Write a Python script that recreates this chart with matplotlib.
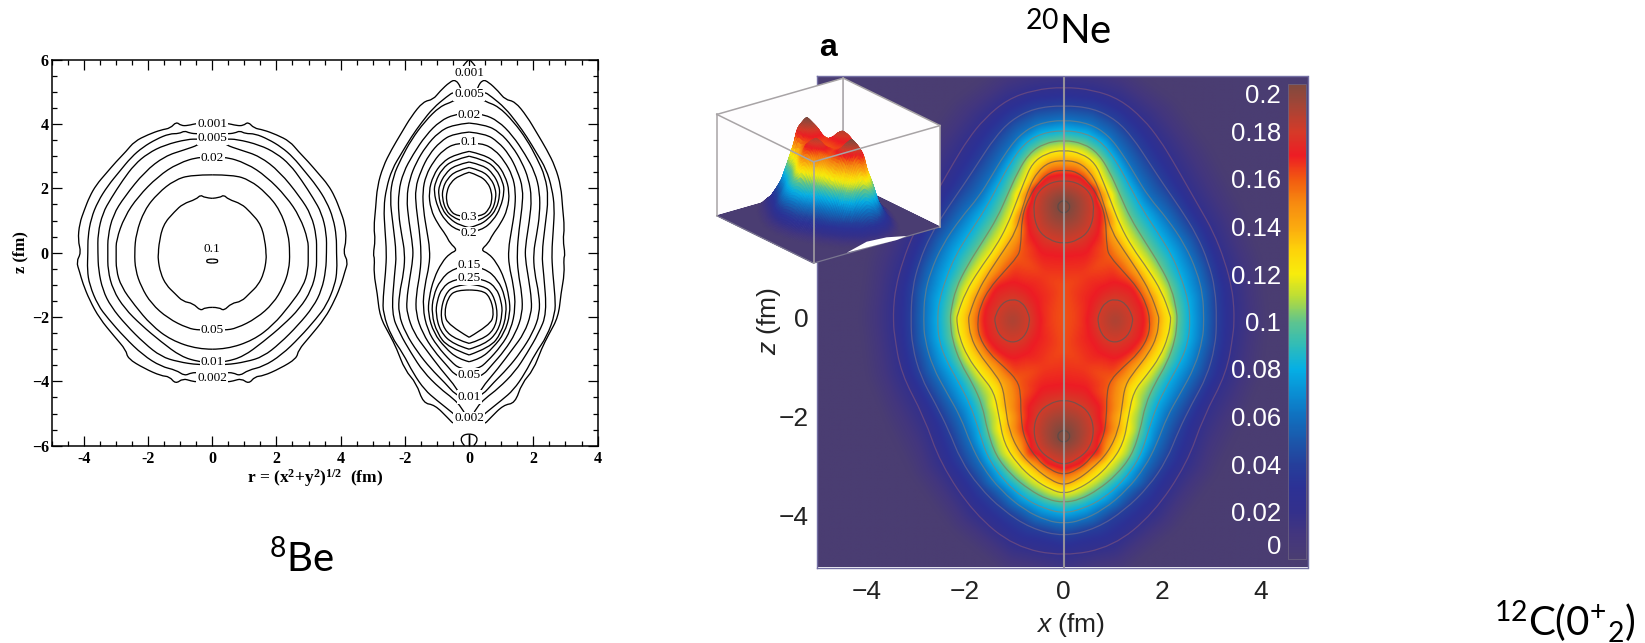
import numpy as np
import matplotlib
matplotlib.use("Agg")
import matplotlib.pyplot as plt
import matplotlib.tri as mtri
from matplotlib.colors import LinearSegmentedColormap, Normalize
from matplotlib.patches import PathPatch, Polygon
from matplotlib.path import Path
from matplotlib.ticker import MultipleLocator
from mpl_toolkits.mplot3d.art3d import Poly3DCollection

plt.rcParams["mathtext.fontset"] = "custom"
plt.rcParams["mathtext.rm"] = "Liberation Sans"
plt.rcParams["mathtext.it"] = "Liberation Sans:italic"
plt.rcParams["mathtext.default"] = "regular"

W, H = 1645, 643

# 8Be, left object: right halves of the contours (r, z in fm), outside in
be_a1 = [(0, 4.03), (.45, 4.03), (.76, 3.95), (.97, 3.95), (1.12, 4.07), (1.30, 3.87), (1.59, 3.82), (2.0, 3.67),
         (2.42, 3.46), (2.68, 3.15), (2.99, 2.83), (3.30, 2.47), (3.61, 2.11), (3.82, 1.74), (3.98, 1.33),
         (4.13, .91), (4.18, .39), (4.08, 0), (4.23, -.28), (4.13, -.59), (4.03, -.95), (3.82, -1.47),
         (3.51, -2.04), (3.04, -2.61), (2.68, -3.03), (2.63, -3.29), (2.11, -3.60), (1.59, -3.83), (1.33, -3.85),
         (1.14, -4.08), (.91, -3.91), (.65, -3.99), (.45, -4.02), (0, -4.02)]
be_a2 = [(0, 3.69), (.45, 3.69), (.71, 3.72), (.86, 3.79), (1.03, 3.70), (1.33, 3.70), (1.74, 3.53), (2.16, 3.28),
         (2.52, 2.97), (2.89, 2.52), (3.25, 2.08), (3.56, 1.59), (3.77, 1.07), (3.87, .50), (3.87, 0),
         (3.89, -.54), (3.82, -1.0), (3.56, -1.63), (3.25, -2.04), (2.73, -2.63), (2.16, -3.18), (1.59, -3.54),
         (1.12, -3.65), (.86, -3.83), (.65, -3.73), (.42, -3.73), (0, -3.73)]
be_a3 = [(0, 3.53), (.42, 3.53), (.76, 3.53), (1.48, 3.35), (2.0, 3.09), (2.42, 2.74), (2.78, 2.26), (3.15, 1.69),
         (3.41, 1.23), (3.56, .60), (3.56, 0), (3.54, -.54), (3.41, -1.16), (3.15, -1.68), (2.68, -2.25),
         (2.11, -2.82), (1.59, -3.23), (1.07, -3.39), (.42, -3.49), (0, -3.49)]
be_a4 = [(.3, 3.45), (.42, 3.35), (.86, 3.2), (1.48, 3.0), (2.1, 2.52), (2.73, 1.74), (3.09, 1.17), (3.25, .5),
         (3.25, 0), (3.25, -.54), (3.09, -1.16), (2.73, -1.73), (2.21, -2.25), (1.59, -2.77), (.97, -3.23),
         (.42, -3.39), (.3, -3.39)]
be_a5 = [(0, 2.95), (.35, 3.0), (1.07, 2.78), (1.69, 2.37), (2.31, 1.74), (2.73, 1.12), (2.99, .39), (2.99, 0),
         (2.99, -.54), (2.83, -1.06), (2.42, -1.63), (1.9, -2.25), (1.28, -2.72), (.45, -3.0), (0, -3.0)]
be_a6 = [(0, 2.42), (.65, 2.42), (1.17, 2.26), (1.69, 1.85), (2.11, 1.33), (2.37, .6), (2.42, 0), (2.39, -.54),
         (2.21, -1.06), (1.9, -1.58), (1.38, -2.04), (.76, -2.35), (.39, -2.41), (0, -2.41)]
be_a7 = [(0, 1.69), (.24, 1.71), (.36, 1.8), (.5, 1.66), (.91, 1.52), (1.17, 1.28), (1.54, .86), (1.67, .19),
         (1.67, 0), (1.69, -.18), (1.61, -.64), (1.43, -1.01), (1.17, -1.26), (.91, -1.52), (.6, -1.57),
         (.36, -1.81), (.22, -1.70), (0, -1.70)]
be_a8 = [(0, -.2), (.14, -.2), (.18, -.26), (.14, -.32), (0, -.32)]
be_left = [be_a1, be_a2, be_a3, be_a4, be_a5, be_a6, be_a7, be_a8]

# 8Be, right object, same idea
be_d1 = [(.22, 4.98), (.26, 5.15), (.42, 5.38), (.6, 5.31), (.91, 5.02), (1.12, 4.76), (1.43, 4.70), (1.80, 4.24),
         (2.11, 3.72), (2.42, 3.2), (2.68, 2.68), (2.86, 2.06), (2.91, 1.39), (2.97, .77), (2.92, .40), (2.99, -.06),
         (2.94, -.18), (2.97, -.64), (2.86, -1.26), (2.78, -1.99), (2.47, -2.56), (2.26, -2.97), (2.0, -3.65),
         (1.64, -4.06), (1.43, -4.68), (1.07, -4.73), (.65, -5.15), (.45, -5.36), (.42, -5.2)]
be_d2 = [(.3, 4.92), (.45, 5.02), (.7, 4.85), (1.12, 4.5), (1.48, 4.05), (1.8, 3.6), (2.1, 3.1), (2.4, 2.6),
         (2.58, 2.0), (2.66, 1.4), (2.62, .7), (2.57, 0), (2.6, -.6), (2.68, -1.4), (2.68, -1.89), (2.42, -2.61),
         (2.06, -3.13), (1.74, -3.75), (1.38, -4.27), (1.02, -4.58), (.5, -4.99), (.36, -5.12)]
be_d3 = [(.3, 4.82), (.5, 4.7), (.91, 4.55), (1.38, 4.08), (1.8, 3.51), (2.11, 2.94), (2.37, 2.37), (2.47, 1.7),
         (2.37, .87), (2.26, -.06), (2.32, -.64), (2.42, -1.89), (2.16, -2.51), (1.8, -3.13), (1.43, -3.7),
         (.91, -4.22), (.5, -4.53), (.24, -4.8), (.12, -5.03)]
be_d4 = [(.3, 4.3), (.45, 4.3), (.9, 4.1), (1.35, 3.65), (1.75, 3.05), (2.05, 2.5), (2.2, 1.9), (2.2, 1.2),
         (2.1, .55), (2.0, 0), (2.03, -.6), (2.18, -1.3), (2.2, -1.9), (1.98, -2.5), (1.6, -3.1), (1.2, -3.6),
         (.75, -4.05), (.42, -4.42), (.3, -4.45)]
be_d5 = [(0, 4.03), (.5, 3.98), (.95, 3.75), (1.35, 3.3), (1.65, 2.8), (1.85, 2.3), (1.95, 1.7), (1.88, 1.0),
         (1.75, .2), (1.75, -.2), (1.85, -.8), (1.95, -1.5), (1.93, -1.9), (1.72, -2.5), (1.35, -3.0), (.9, -3.6),
         (.35, -4.25), (.3, -4.4)]
be_d6 = [(0, 3.75), (.5, 3.7), (.9, 3.45), (1.25, 3.05), (1.5, 2.55), (1.68, 2.0), (1.65, 1.4), (1.55, .7),
         (1.49, 0), (1.52, -.6), (1.65, -1.3), (1.66, -1.9), (1.45, -2.5), (1.1, -3.05), (.7, -3.5), (.4, -3.85),
         (0, -3.95)]
be_d7 = [(0, 3.41), (.4, 3.41), (.8, 3.2), (1.1, 2.85), (1.35, 2.4), (1.45, 1.9), (1.42, 1.3), (1.32, .7),
         (1.22, .1), (1.24, -.4), (1.38, -1.0), (1.45, -1.7), (1.3, -2.4), (1.0, -2.9), (.55, -3.4), (.3, -3.6),
         (0, -3.65)]
be_b = [(0, 3.15), (.45, 3.05), (.85, 2.8), (1.12, 2.4), (1.26, 1.9), (1.2, 1.35), (.98, .9), (.72, .55), (.6, .3),
        (.36, .08), (.6, -.02), (.85, -.3), (1.1, -.8), (1.25, -1.4), (1.28, -1.9), (1.1, -2.5), (.75, -2.95),
        (.35, -3.3), (0, -3.39)]
be_t4 = [(0, 3.0), (.5, 2.88), (.85, 2.6), (1.05, 2.2), (1.1, 1.9), (.98, 1.4), (.75, 1.0), (.4, .7), (0, .61)]
be_t3 = [(0, 2.82), (.45, 2.72), (.75, 2.45), (.93, 2.1), (.96, 1.8), (.85, 1.35), (.6, 1.05), (.3, .85), (0, .78)]
be_t2 = [(0, 2.65), (.4, 2.55), (.68, 2.3), (.82, 2.0), (.84, 1.7), (.72, 1.3), (.5, 1.1), (.2, .98), (0, .95)]
be_t1 = [(0, 2.5), (.32, 2.4), (.58, 2.18), (.7, 1.9), (.71, 1.6), (.62, 1.35), (.4, 1.13), (0, 1.12)]
be_u4 = [(0, -.38), (.5, -.48), (.9, -.85), (1.12, -1.35), (1.17, -1.9), (1.0, -2.5), (.65, -2.95), (0, -3.18)]
be_u3 = [(0, -.77), (.5, -.83), (.85, -1.1), (1.0, -1.5), (1.04, -1.9), (.9, -2.45), (.5, -2.85), (0, -3.0)]
be_u2 = [(0, -.98), (.45, -1.02), (.75, -1.28), (.9, -1.89), (.78, -2.4), (.4, -2.7), (0, -2.82)]
be_u1 = [(0, -1.16), (.39, -1.16), (.65, -1.37), (.78, -1.89), (.65, -2.25), (0, -2.63)]
be_cap_top = [(.21, 5.76), (.08, 5.97), (0, 6.0)]
be_cap_bot = [(0, -5.64), (.19, -5.64), (.28, -5.86), (.14, -6.0)]
be_stem = [(0, -5.64), (0, -6.0)]
be_right = [be_d1, be_d2, be_d3, be_d4, be_d5, be_d6, be_d7, be_b, be_t4, be_t3, be_t2, be_t1,
            be_u4, be_u3, be_u2, be_u1, be_cap_top, be_cap_bot, be_stem]

be_left_labels = ["0.001", "0.005", "0.02", "0.05", "0.01", "0.002"]
be_left_label_z = [4.0, 3.56, 2.94, -2.4, -3.39, -3.9]
be_right_labels = ["0.001", "0.005", "0.02", "0.1", "0.3", "0.2", "0.15", "0.25", "0.05", "0.01", "0.002"]
be_right_label_z = [5.59, 4.92, 4.27, 3.44, 1.12, .6, -.38, -.78, -3.8, -4.48, -5.15]
be_centre = 8  # the right object sits 8 fm along the shared axis
be_ticks = [-4, -2, 0, 2, 4, 6, 8, 10, 12]
be_ticklabels = ["-4", "-2", "0", "2", "4", "-2", "0", "2", "4"]

# 20Ne: right halves of the density contours (x, z in fm)
ne_02 = [(0, 4.66), (.6, 4.6), (1.14, 4.41), (1.61, 4.02), (1.95, 3.59), (2.22, 3.15), (2.49, 2.68), (2.76, 2.21),
         (3.03, 1.74), (3.27, 1.13), (3.41, .59), (3.45, .19), (3.45, -.05), (3.44, -.3), (3.3, -1.12), (2.83, -2.0),
         (2.5, -2.94), (1.82, -3.95), (1.0, -4.62), (0, -4.82)]
ne_04 = [(0, 4.29), (.6, 4.23), (1.07, 3.99), (1.41, 3.62), (1.72, 3.15), (2.03, 2.68), (2.36, 2.21), (2.7, 1.67),
         (2.93, 1.13), (3.07, .59), (3.1, -.05), (3.07, -.58), (2.9, -1.19), (2.6, -1.73), (2.33, -2.27), (2.09, -2.87),
         (1.72, -3.41), (1.24, -3.88), (.67, -4.25), (0, -4.42)]
ne_06 = [(0, 4.0), (.53, 3.92), (.91, 3.68), (1.21, 3.28), (1.45, 2.88), (1.72, 2.44), (2.09, 2.01), (2.46, 1.47),
         (2.7, .93), (2.82, .46), (2.84, -.05), (2.82, -.42), (2.66, -.99), (2.36, -1.53), (2.09, -2.0), (1.89, -2.54),
         (1.65, -3.01), (1.28, -3.48), (.8, -3.88), (.33, -4.1), (0, -4.15)]
ne_08 = [(0, 3.79), (.47, 3.72), (.8, 3.52), (1.07, 3.15), (1.31, 2.71), (1.58, 2.21), (1.89, 1.74), (2.19, 1.27),
         (2.39, .79), (2.53, .32), (2.56, -.05), (2.53, -.45), (2.39, -.85), (2.12, -1.32), (1.89, -1.76), (1.72, -2.27),
         (1.55, -2.81), (1.21, -3.3), (.8, -3.65), (.4, -3.85), (0, -3.95)]
ne_10 = [(0, 3.59), (.4, 3.52), (.7, 3.32), (.93, 2.95), (1.14, 2.48), (1.35, 2.01), (1.65, 1.53), (1.95, 1.06),
         (2.19, .59), (2.29, .12), (2.3, -.05), (2.26, -.45), (2.09, -.92), (1.85, -1.32), (1.65, -1.76), (1.55, -2.27),
         (1.38, -2.78), (1.07, -3.17), (.7, -3.47), (.33, -3.67), (0, -3.73)]
ne_12 = [(0, 3.39), (.36, 3.32), (.64, 3.12), (.8, 2.75), (.97, 2.31), (1.14, 1.87), (1.38, 1.43), (1.72, .96),
         (1.99, .52), (2.16, .05), (2.17, -.05), (2.12, -.38), (1.95, -.79), (1.68, -1.16), (1.41, -1.49), (1.31, -2.0),
         (1.21, -2.54), (.94, -2.95), (.6, -3.27), (.26, -3.47), (0, -3.55)]
ne_14 = [(0, 3.18), (.3, 3.14), (.53, 2.95), (.7, 2.64), (.84, 2.21), (.97, 1.74), (1.21, 1.37), (1.51, .93),
         (1.75, .52), (1.92, .05), (1.93, -.05), (1.89, -.38), (1.72, -.72), (1.45, -1.06), (1.24, -1.36), (1.18, -1.8),
         (1.11, -2.27), (.9, -2.72), (.57, -3.05), (.26, -3.28), (0, -3.38)]
ne_16 = [(0, 2.98), (.26, 2.95), (.5, 2.75), (.7, 2.44), (.85, 2.04), (.87, 1.4), (.94, 1.23), (1.21, .93),
         (1.51, .59), (1.68, .26), (1.75, -.05), (1.72, -.38), (1.51, -.72), (1.21, -.99), (.94, -1.26), (.87, -1.53),
         (.87, -2.0), (.8, -2.45), (.55, -2.85), (.26, -3.08), (0, -3.17)]
ne_18_top = [(0, 2.78), (.33, 2.71), (.57, 2.48), (.62, 2.14), (.53, 1.77), (.3, 1.57), (0, 1.49)]
ne_18_bot = [(0, -1.65), (.3, -1.73), (.53, -1.93), (.62, -2.27), (.53, -2.64), (.26, -2.87), (0, -2.97)]
ne_20_top = [(0, 2.37), (.09, 2.33), (.13, 2.24), (.09, 2.15), (0, 2.11)]
ne_20_bot = [(0, -2.27), (.09, -2.3), (.13, -2.39), (.09, -2.48), (0, -2.51)]
ne_halves = [ne_02, ne_04, ne_06, ne_08, ne_10, ne_12, ne_14, ne_16, ne_18_top, ne_18_bot, ne_20_top, ne_20_bot]
ne_levels = [.02, .04, .06, .08, .10, .12, .14, .16, .18, .18, .20, .20]
ne_line_colors = ["#6a4a80", "#5a5f95", "#5f7f90", "#6f8a85", "#7a8a60", "#807a50", "#806040", "#704f40", "#6d5350",
                  "#6d5350", "#5a4a48", "#5a4a48"]
# closed .18 loop around the side cluster, x > 0
ne_18_side = [(1.04, .38), (1.25, .3), (1.39, .05), (1.4, -.1), (1.3, -.38), (1.04, -.52), (.8, -.4), (.68, -.1),
              (.72, .12), (.85, .32)]
# where the red band ends: no line drawn there, density about .17
ne_17_top = [(0, 2.88), (.35, 2.82), (.68, 2.6), (.78, 2.2), (.72, 1.75), (.45, 1.3), (0, 1.25)]
ne_17_bot = [(0, -1.38), (.45, -1.45), (.74, -1.85), (.78, -2.3), (.68, -2.75), (.35, -2.98), (0, -3.07)]
ne_17_side = [(1.04, .72), (1.4, .58), (1.6, .2), (1.63, -.1), (1.55, -.45), (1.3, -.72), (1.04, -.85), (.75, -.72),
              (.52, -.35), (.48, -.05), (.55, .3), (.75, .58)]
# where the colour has faded out to the background
ne_fade = [(0, 5.4), (1.2, 5.15), (2.3, 4.35), (3.0, 3.4), (3.6, 2.3), (4.0, 1.2), (4.15, 0), (4.0, -1.2), (3.6, -2.2),
           (3.1, -3.2), (2.3, -4.3), (1.2, -5.2), (0, -5.55), (7, 7), (7, -7), (7, 0), (0, 7), (0, -7)]
# values seen inside the contours: (x, z, density)
ne_inner = [(0, 2.24, .205), (0, -2.39, .205), (1.04, -.07, .19), (0, 0, .161), (0, .6, .162), (0, -.6, .162),
            (.25, 0, .164), (.4, .85, .165), (.4, -.98, .165)]

cbar_values = [0, .01, .02, .03, .04, .05, .06, .07, .08, .09, .10, .11, .12, .13, .14, .15, .16, .17, .18, .19, .20]
cbar_colors = ["#4a3d72", "#43367e", "#33308c", "#2c3195", "#253f9b", "#1b58ab", "#1070bf", "#0a8fd4", "#05afe5",
               "#30bcb8", "#5fc48e", "#b7dc3a", "#f8ec0c", "#fdd30a", "#fba90f", "#f78a10", "#f25a10", "#ed1c24",
               "#d53a28", "#a84435", "#7f4a3f"]
cbar_ticks = [0, .02, .04, .06, .08, .10, .12, .14, .16, .18, .20]
cbar_ticklabels = ["0", "0.02", "0.04", "0.06", "0.08", "0.1", "0.12", "0.14", "0.16", "0.18", "0.2"]
ne_ticks = [-4, -2, 0, 2, 4]
ne_zticks = [-4, -2, 0]
ne_ticklabels = ["\u22124", "\u22122", "0", "2", "4"]
ne_zticklabels = ["\u22124", "\u22122", "0"]


def box(left, top, right, bottom):
    return [left / W, 1 - bottom / H, (right - left) / W, (bottom - top) / H]


def smooth_open(ax, pts, **kw):
    # open quadratic curve, read points as control points
    pts = np.array(pts, float)
    if len(pts) < 3:
        ax.add_patch(PathPatch(Path(pts), fill=False, **kw))
        return
    verts = [pts[0]]
    codes = [Path.MOVETO]
    for i in range(1, len(pts) - 1):
        end = pts[i + 1] if i == len(pts) - 2 else (pts[i] + pts[i + 1]) / 2
        verts += [pts[i], end]
        codes += [Path.CURVE3, Path.CURVE3]
    ax.add_patch(PathPatch(Path(verts, codes), fill=False, **kw))


def draw_half(ax, pts, centre=0):
    pts = np.array(pts, float)
    for sign in (1, -1):
        smooth_open(ax, np.column_stack([centre + sign * pts[:, 0], pts[:, 1]]), edgecolor="black", linewidth=.95)


def smooth_loop(ax, xs, zs, **kw):
    # closed quadratic curve with the read points as control points
    pts = np.column_stack([xs, zs])
    mids = (pts + np.roll(pts, -1, axis=0)) / 2
    verts = [mids[-1]]
    codes = [Path.MOVETO]
    for p, m in zip(pts, mids):
        verts += [p, m]
        codes += [Path.CURVE3, Path.CURVE3]
    ax.add_patch(PathPatch(Path(verts, codes), fill=False, **kw))


def mirrored(pts):
    half = np.array(pts, float)
    left = half[::-1].copy()
    left[:, 0] *= -1
    return np.vstack([half, left[1:-1]])


def blur(a, n):
    kernel = np.hanning(n + 2)[1:-1]
    kernel /= kernel.sum()
    pad = n // 2
    out = np.pad(a, pad, mode="edge")
    out = np.apply_along_axis(lambda r: np.convolve(r, kernel, mode="same"), 0, out)
    out = np.apply_along_axis(lambda r: np.convolve(r, kernel, mode="same"), 1, out)
    return out[pad:-pad, pad:-pad]


fig = plt.figure(figsize=(W / 100, H / 100), dpi=100, facecolor="white")

# ---- 8Be panel
ax = fig.add_axes(box(51.6, 59.7, 597.6, 445.7))
ax.set_xlim(-5, 12)
ax.set_ylim(-6, 6)
for pts in be_left:
    draw_half(ax, pts)
for pts in be_right:
    draw_half(ax, pts, be_centre)
serif = dict(family="Liberation Serif", ha="center", va="center", fontsize=9.5, color="black")
white = dict(facecolor="white", edgecolor="none", pad=.6)
for name, z in zip(be_left_labels, be_left_label_z):
    ax.text(0, z, name, bbox=white, **serif)
for name, z in zip(be_right_labels, be_right_label_z):
    ax.text(be_centre, z, name, bbox=white, **serif)
ax.text(0, .11, "0.1", **serif)
ax.set_xticks(be_ticks)
ax.set_xticklabels(be_ticklabels)
ax.xaxis.set_minor_locator(MultipleLocator(.5))
ax.yaxis.set_major_locator(MultipleLocator(2))
ax.yaxis.set_minor_locator(MultipleLocator(.5))
ax.tick_params(which="major", direction="in", top=True, right=True, length=7, width=.9)
ax.tick_params(which="minor", direction="in", top=True, right=True, length=3.6, width=.9)
ax.tick_params(axis="x", which="major", pad=4)
ax.tick_params(axis="y", which="major", pad=2)
for lab in ax.get_xticklabels() + ax.get_yticklabels():
    lab.set_family("Liberation Serif")
    lab.set_fontweight("bold")
    lab.set_fontsize(11.5)
for spine in ax.spines.values():
    spine.set_linewidth(1.1)

# ---- density field for 20Ne, from the contour points
fx, fz, fv = [], [], []
for pts, lev in zip(ne_halves + [ne_17_top, ne_17_bot], ne_levels + [.17, .17]):
    m = mirrored(pts)
    fx += list(m[:, 0])
    fz += list(m[:, 1])
    fv += [lev] * len(m)
for sign in (1, -1):
    for ring, lev in ((ne_18_side, .18), (ne_17_side, .17)):
        for x, z in ring:
            fx.append(sign * x)
            fz.append(z)
            fv.append(lev)
    for x, z, v in ne_inner:
        if x != 0 or sign == 1:
            fx.append(sign * x)
            fz.append(z)
            fv.append(v)
m = mirrored(ne_fade[:13])
fx += list(m[:, 0])
fz += list(m[:, 1])
fv += [0] * len(m)
for x, z in ne_fade[13:]:
    for sign in (1, -1):
        if x != 0 or sign == 1:
            fx.append(sign * x)
            fz.append(z)
            fv.append(0)
fx, fz, fv = np.array(fx), np.array(fz), np.array(fv)
tri = mtri.Triangulation(fx, fz)
field = mtri.LinearTriInterpolator(tri, fv)

cmap = LinearSegmentedColormap.from_list("ne", [(v / .2, c) for v, c in zip(cbar_values, cbar_colors)], N=512)
norm = Normalize(0, .2)

# ---- 20Ne panel
ax2 = fig.add_axes(box(817, 76, 1307.5, 567.5), zorder=1)
grid = np.linspace(-5.1, 5.1, 511)
gx, gz = np.meshgrid(grid, grid)
gv = blur(np.ma.filled(field(gx, gz), 0), 15)
ax2.imshow(gv, extent=(-5.1, 5.1, -5.1, 5.1), origin="lower", cmap=cmap, norm=norm, aspect="auto", interpolation="bilinear")
ax2.set_xlim(-5.0, 4.94)
ax2.set_ylim(-5.04, 4.88)
for pts, col in zip(ne_halves, ne_line_colors):
    m = mirrored(pts)
    smooth_loop(ax2, m[:, 0], m[:, 1], edgecolor=col, linewidth=.9, alpha=.85)
side = np.array(ne_18_side)
for sign in (1, -1):
    smooth_loop(ax2, sign * side[:, 0], side[:, 1], edgecolor="#6d5350", linewidth=.9, alpha=.85)
ax2.axvline(0, color="#a09a9c", lw=1.5, alpha=.9)
ax2.set_xticks(ne_ticks)
ax2.set_xticklabels(ne_ticklabels)
ax2.set_yticks(ne_zticks)
ax2.set_yticklabels(ne_zticklabels)
ax2.tick_params(length=0, labelsize=19, labelcolor="#222222", pad=9)
ax2.tick_params(axis="y", pad=6)
for lab in ax2.get_xticklabels() + ax2.get_yticklabels():
    lab.set_family("Liberation Sans")
for spine in ax2.spines.values():
    spine.set_color("#7470a4")
    spine.set_linewidth(1)

# ---- colour bar inside the panel
cax = fig.add_axes(box(1288, 84, 1305.7, 559), zorder=2)
cb = fig.colorbar(plt.cm.ScalarMappable(norm=norm, cmap=cmap), cax=cax)
cb.outline.set_edgecolor("#6a6080")
cb.outline.set_linewidth(.6)
cb.set_ticks(cbar_ticks)
cb.set_ticklabels(cbar_ticklabels)
cax.yaxis.set_ticks_position("left")
cax.tick_params(length=0, pad=5, labelsize=18.5, labelcolor="white")
for lab, value in zip(cax.get_yticklabels(), cbar_ticks):
    lab.set_family("Liberation Sans")
    if value == .20:
        lab.set_va("top")
    elif value == 0:
        lab.set_va("bottom")

# ---- 3D inset
ax3 = fig.add_axes(box(674.4, 24.7, 974.4, 324.7), projection="3d", proj_type="ortho", computed_zorder=False, zorder=3)
ax3.set_axis_off()
ax3.patch.set_alpha(0)
ax3.view_init(elev=22, azim=232.6)
ax3.set_box_aspect((1, 1, .686), zoom=.81)
ax3.set_xlim(-5, 5)
ax3.set_ylim(-5, 5)
ax3.set_zlim(0, .22)
inside = np.arange(5, 506, 4)
sx = gx[np.ix_(inside, inside)]
sz = gz[np.ix_(inside, inside)]
sv = gv[np.ix_(inside, inside)]
walls = [[(5, -5, 0), (5, 5, 0), (5, 5, .22), (5, -5, .22)], [(-5, 5, 0), (5, 5, 0), (5, 5, .22), (-5, 5, .22)]]
ax3.add_collection3d(Poly3DCollection(walls, facecolor="#fefdfe", edgecolor="none", alpha=1, zorder=1))
edge_kw = dict(color="#a8a4a6", lw=1.1)
ax3.plot([5, 5], [5, 5], [0, .22], zorder=1.5, **edge_kw)
ax3.plot_surface(sx, sz, sv, facecolors=cmap(norm(sv)), rstride=1, cstride=1, shade=False, linewidth=.5,
                 antialiased=True, zorder=2)
for a, b in [((-5, -5), (5, -5)), ((5, -5), (5, 5)), ((5, 5), (-5, 5)), ((-5, 5), (-5, -5))]:
    ax3.plot([a[0], b[0]], [a[1], b[1]], [.22, .22], zorder=3, **edge_kw)
for a, b in [((-5, -5), (5, -5)), ((-5, -5), (-5, 5))]:
    ax3.plot([a[0], b[0]], [a[1], b[1]], [0, 0], zorder=3, color="#7a7690", lw=.9)
for x, y in [(-5, -5), (5, -5), (-5, 5)]:
    ax3.plot([x, x], [y, y], [0, .22], zorder=3, **edge_kw)

# ---- free text and the white fleck, in figure pixels
over = fig.add_axes([0, 0, 1, 1], zorder=5)
over.set_xlim(0, W)
over.set_ylim(H, 0)
over.set_axis_off()
over.add_patch(Polygon([(846.7, 252.7), (866.7, 241.7), (886.7, 237.3), (906.7, 236), (896.7, 240), (876.7, 245)],
                       facecolor="white", edgecolor="none"))
lato = dict(family="Lato", ha="center", va="center", color="black", fontsize=29)
over.text(302, 559, "$^{8}$Be", **lato)
over.text(1068, 31, "$^{20}$Ne", **lato)
over.text(1565, 622, "$^{12}$C(0$^{+}$$_{2}$)", **lato)
over.text(828, 48, "a", family="Liberation Sans", fontweight="bold", fontsize=23, ha="center", va="center")
over.text(20, 252, "z (fm)", family="Liberation Serif", fontweight="bold", fontsize=12, rotation=90, ha="center", va="center")
over.text(315, 478, "r = (x$^{2}$+y$^{2}$)$^{1/2}$  (fm)", family="Liberation Serif", fontweight="bold", fontsize=12.5,
          ha="center", va="center")
over.text(769, 321, "$\\mathit{z}$ (fm)", family="Liberation Sans", fontsize=19, rotation=90, ha="center", va="center",
          color="#222222")
over.text(1070, 625, "$\\mathit{x}$ (fm)", family="Liberation Sans", fontsize=19, ha="center", va="center", color="#222222")

fig.savefig("out.png", dpi=100)
